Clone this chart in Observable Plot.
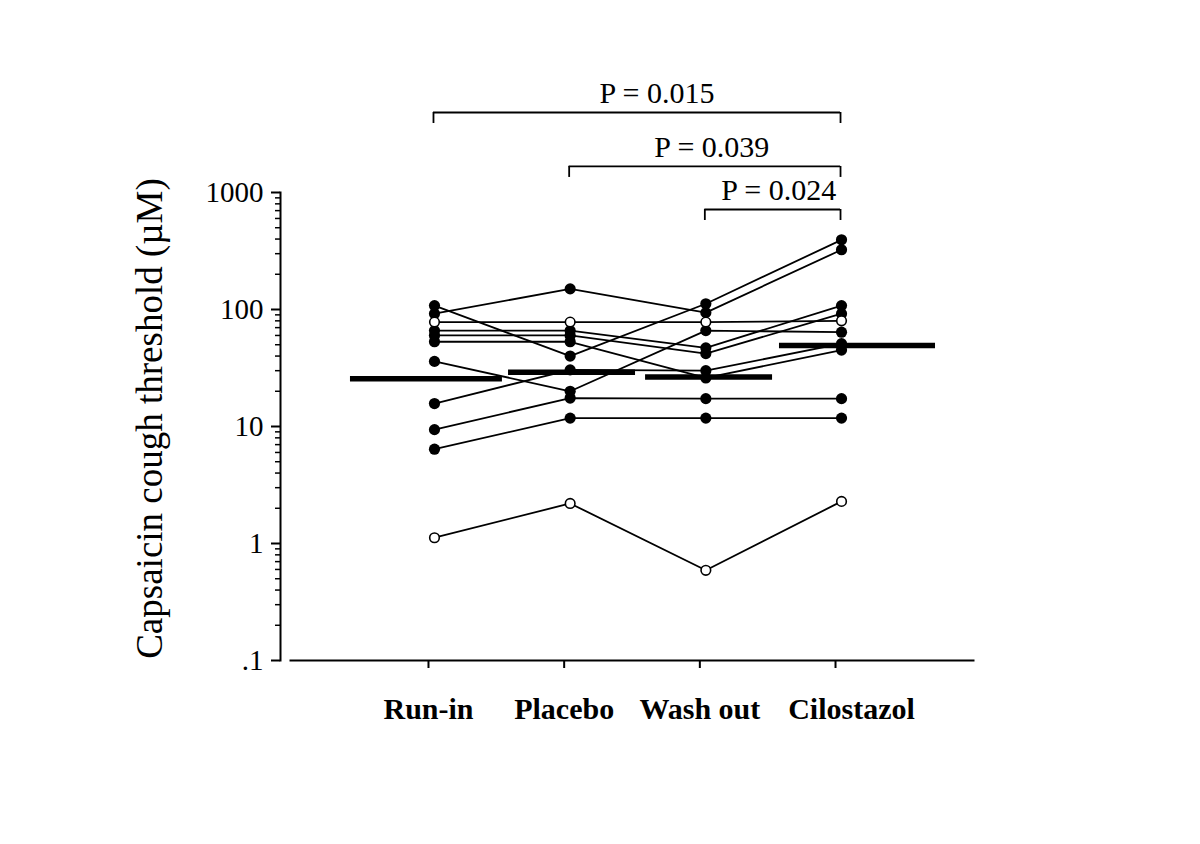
<!DOCTYPE html>
<html>
<head>
<meta charset="utf-8">
<script src="https://cdn.jsdelivr.net/npm/d3@7"></script>
<script src="https://cdn.jsdelivr.net/npm/@observablehq/plot@0.6"></script>
<style>
  html, body { margin: 0; padding: 0; background: #fff; }
</style>
</head>
<body>
<div id="chart"></div>
<script>
// ---------- data ----------
const phases = ["Run-in", "Placebo", "Wash out", "Cilostazol"];
const subjects = ["S1","S2","S3","S4","S5","S6","S7","S8","S9","S10","S11"];
const runIn      = [92, 108, 78, 66, 60, 53, 36, 15.7, 9.4, 6.4, 1.12];
const placebo    = [150, 40, 78, 66, 60, 53, 20, 30.5, 17.5, 11.8, 2.2];
const washOut    = [94, 112, 78, 47, 42, 26, 66, 30, 17.3, 11.8, 0.59];
const cilostazol = [324, 394, 80, 108, 92, 45, 64, 51, 17.3, 11.8, 2.29];
const openSymbol = [false, false, true, false, false, false, false, false, false, false, true];
const geoMeans   = [25.6, 29.1, 26.5, 49.2];
const yTicks      = [0.1, 1, 10, 100, 1000];
const yTickLabels = [".1", "1", "10", "100", "1000"];
const yMinorTicks = [0.2,0.3,0.4,0.5,0.6,0.7,0.8,0.9, 2,3,4,5,6,7,8,9, 20,30,40,50,60,70,80,90, 200,300,400,500,600,700,800,900];
const pLabels = ["P = 0.015", "P = 0.039", "P = 0.024"];
const pFrom   = ["Run-in", "Placebo", "Wash out"];
const pTo     = ["Cilostazol", "Cilostazol", "Cilostazol"];
const pLevel  = [4830, 1670, 716];   // bracket height on the value axis
const yLabel = "Capsaicin cough threshold (\u00B5M)";

// ---------- layout (positions / styles, not data) ----------
const serif = "'Liberation Serif', 'Times New Roman', serif";
const meanSpan = [[0.425, 1.545], [1.59, 2.526], [2.60, 3.536], [3.587, 4.737]];
const pTextDx = [25, 12, 11];
const dropFactor = Math.pow(10, 11 / 117);
const pos = (name) => phases.indexOf(name) + 1;

// ---------- tables ----------
const series = [runIn, placebo, washOut, cilostazol];
const rows = [];
subjects.forEach((s, si) => {
  phases.forEach((p, pi) => {
    rows.push({subject: s, phase: p, x: pi + 1, value: series[pi][si], open: openSymbol[si]});
  });
});
const means = phases.map((p, i) => ({phase: p, value: geoMeans[i], x1: meanSpan[i][0], x2: meanSpan[i][1]}));

const bracketMarks = [];
pLabels.forEach((label, k) => {
  const a = pos(pFrom[k]), b = pos(pTo[k]);
  bracketMarks.push(
    Plot.ruleY([pLevel[k]], {x1: a, x2: b, dx: 5, stroke: "black", strokeWidth: 1.8}),
    Plot.ruleX([a, b], {y1: pLevel[k], y2: pLevel[k] / dropFactor, dx: 5, stroke: "black", strokeWidth: 1.8}),
    Plot.text([label], {x: (a + b) / 2, y: pLevel[k], dx: pTextDx[k], dy: -9, lineAnchor: "bottom",
      fontSize: 30, fontFamily: serif, fill: "black"})
  );
});

const chart = Plot.plot({
  width: 1200,
  height: 844,
  marginLeft: 290,
  marginRight: 227,
  marginTop: 192,
  marginBottom: 184,
  style: {fontFamily: serif, background: "white", color: "black"},
  x: {type: "linear", domain: [-0.017, 5.017]},
  y: {type: "log", domain: [0.1, 1000]},
  marks: [
    // axes
    Plot.frame({anchor: "left", dx: -10, stroke: "black", strokeWidth: 2}),
    Plot.frame({anchor: "bottom", stroke: "black", strokeWidth: 2}),
    Plot.axisY({ticks: yTicks, tickSize: 9, dx: -10, tickPadding: 8, strokeWidth: 2,
      tickFormat: d => yTickLabels[yTicks.findIndex(t => Math.abs(t - d) < 1e-9)],
      fontSize: 29, fontFamily: serif, label: null}),
    Plot.axisY({ticks: yMinorTicks, tickSize: 5, dx: -10, strokeWidth: 1.5, tickFormat: () => "", label: null}),
    Plot.axisX({ticks: [1, 2, 3, 4], tickSize: 8, strokeWidth: 2, tickFormat: () => "", label: null}),
    // category labels
    Plot.text(phases.slice(0, 3), {x: (d, i) => i + 1, frameAnchor: "bottom", dy: 58, lineAnchor: "bottom",
      fontSize: 30, fontWeight: "bold", fontFamily: serif, fill: "black"}),
    Plot.text(phases.slice(3), {x: 4, frameAnchor: "bottom", dx: 16, dy: 58, lineAnchor: "bottom",
      fontSize: 30, fontWeight: "bold", fontFamily: serif, fill: "black"}),
    // y label
    Plot.text([yLabel], {frameAnchor: "left", dx: -140, dy: -8, rotate: -90, textAnchor: "middle",
      lineAnchor: "middle", fontSize: 37, fontFamily: serif, fill: "black"}),
    // subject lines
    Plot.line(rows, {x: "x", y: "value", z: "subject", dx: 6, stroke: "black", strokeWidth: 1.8}),
    // geometric mean bars
    Plot.ruleY(means, {y: "value", x1: "x1", x2: "x2", stroke: "black", strokeWidth: 5.5}),
    // dots
    Plot.dot(rows.filter(d => !d.open), {x: "x", y: "value", dx: 6, r: 5.6, fill: "black", stroke: "none"}),
    Plot.dot(rows.filter(d => d.open), {x: "x", y: "value", dx: 6, r: 4.8, fill: "white", stroke: "black", strokeWidth: 1.6}),
    // significance brackets
    ...bracketMarks
  ]
});
document.getElementById("chart").appendChild(chart);
</script>
</body>
</html>
